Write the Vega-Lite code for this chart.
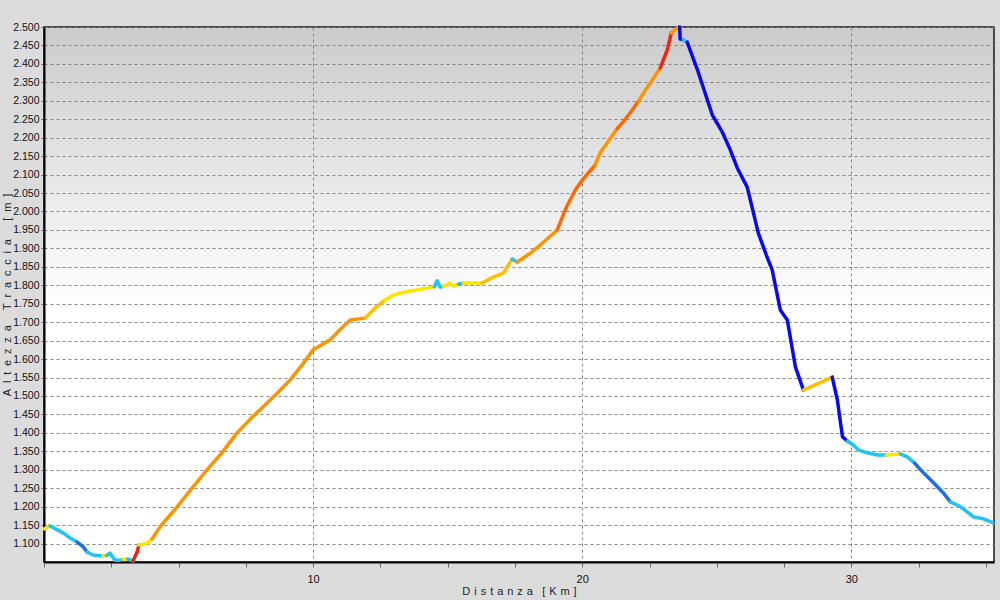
{
  "$schema": "https://vega.github.io/schema/vega-lite/v6.json",
  "width": 950,
  "height": 535,
  "autosize": "none",
  "padding": {"left": 44, "top": 27, "right": 6, "bottom": 38},
  "background": "#dcdcdc",
  "view": {
    "fill": {"gradient": "linear", "x1": 0, "y1": 0, "x2": 0, "y2": 1,
      "stops": [{"offset": 0, "color": "#cbcbcb"}, {"offset": 0.52, "color": "#ffffff"}, {"offset": 1, "color": "#ffffff"}]},
    "stroke": "#1a1a1a",
    "strokeWidth": 1.5
  },
  "config": {
    "font": "Liberation Sans",
    "axis": {
      "labelFont": "Liberation Sans",
      "titleFont": "Liberation Sans",
      "labelColor": "#111111",
      "titleColor": "#222222",
      "titleFontWeight": "normal",
      "domainColor": "#000000",
      "domainWidth": 2,
      "tickColor": "#666666",
      "gridColor": "#858585",
      "gridDash": [3, 3],
      "gridWidth": 1
    }
  },
  "data": {
    "values": [
      {"s": 1, "c": "F", "km": 0.02, "m": 1140}, {"s": 1, "c": "F", "km": 0.22, "m": 1148},
      {"s": 2, "c": "D1", "km": 0.22, "m": 1148}, {"s": 2, "c": "D1", "km": 0.71, "m": 1129}, {"s": 2, "c": "D1", "km": 0.97, "m": 1115}, {"s": 2, "c": "D1", "km": 1.23, "m": 1104},
      {"s": 3, "c": "D2", "km": 1.23, "m": 1104}, {"s": 3, "c": "D2", "km": 1.45, "m": 1092}, {"s": 3, "c": "D2", "km": 1.60, "m": 1077},
      {"s": 4, "c": "D1", "km": 1.60, "m": 1077}, {"s": 4, "c": "D1", "km": 1.82, "m": 1069}, {"s": 4, "c": "D1", "km": 2.19, "m": 1066},
      {"s": 5, "c": "F", "km": 2.19, "m": 1066}, {"s": 5, "c": "F", "km": 2.32, "m": 1068},
      {"s": 6, "c": "D1", "km": 2.32, "m": 1068}, {"s": 6, "c": "D1", "km": 2.45, "m": 1074}, {"s": 6, "c": "D1", "km": 2.64, "m": 1055}, {"s": 6, "c": "D1", "km": 2.83, "m": 1055}, {"s": 6, "c": "D1", "km": 2.95, "m": 1057},
      {"s": 7, "c": "F", "km": 2.95, "m": 1057}, {"s": 7, "c": "F", "km": 3.12, "m": 1058},
      {"s": 8, "c": "D1", "km": 3.12, "m": 1058}, {"s": 8, "c": "D1", "km": 3.31, "m": 1053},
      {"s": 9, "c": "U4", "km": 3.31, "m": 1053}, {"s": 9, "c": "U4", "km": 3.46, "m": 1077}, {"s": 9, "c": "U4", "km": 3.53, "m": 1096},
      {"s": 10, "c": "F", "km": 3.53, "m": 1096}, {"s": 10, "c": "F", "km": 3.83, "m": 1101}, {"s": 10, "c": "F", "km": 4.01, "m": 1112},
      {"s": 11, "c": "U2", "km": 4.01, "m": 1112}, {"s": 11, "c": "U2", "km": 4.31, "m": 1145}, {"s": 11, "c": "U2", "km": 4.94, "m": 1199}, {"s": 11, "c": "U2", "km": 5.5, "m": 1250}, {"s": 11, "c": "U2", "km": 6.06, "m": 1300}, {"s": 11, "c": "U2", "km": 6.6, "m": 1345}, {"s": 11, "c": "U2", "km": 7.17, "m": 1400}, {"s": 11, "c": "U2", "km": 7.7, "m": 1440}, {"s": 11, "c": "U2", "km": 8.29, "m": 1481}, {"s": 11, "c": "U2", "km": 8.7, "m": 1510}, {"s": 11, "c": "U2", "km": 9.14, "m": 1543}, {"s": 11, "c": "U2", "km": 9.6, "m": 1585}, {"s": 11, "c": "U2", "km": 10.0, "m": 1625}, {"s": 11, "c": "U2", "km": 10.63, "m": 1652}, {"s": 11, "c": "U2", "km": 11.0, "m": 1680}, {"s": 11, "c": "U2", "km": 11.38, "m": 1706}, {"s": 11, "c": "U2", "km": 11.93, "m": 1711},
      {"s": 12, "c": "U1", "km": 11.93, "m": 1711}, {"s": 12, "c": "U1", "km": 12.3, "m": 1738}, {"s": 12, "c": "U1", "km": 12.67, "m": 1760},
      {"s": 13, "c": "F", "km": 12.67, "m": 1760}, {"s": 13, "c": "F", "km": 13.0, "m": 1774}, {"s": 13, "c": "F", "km": 13.42, "m": 1782}, {"s": 13, "c": "F", "km": 14.3, "m": 1793}, {"s": 13, "c": "F", "km": 14.5, "m": 1796},
      {"s": 14, "c": "D1", "km": 14.5, "m": 1796}, {"s": 14, "c": "D1", "km": 14.61, "m": 1812}, {"s": 14, "c": "D1", "km": 14.72, "m": 1795}, {"s": 14, "c": "D1", "km": 14.85, "m": 1797},
      {"s": 15, "c": "F", "km": 14.85, "m": 1797}, {"s": 15, "c": "F", "km": 15.09, "m": 1806}, {"s": 15, "c": "F", "km": 15.2, "m": 1798}, {"s": 15, "c": "F", "km": 15.4, "m": 1803},
      {"s": 16, "c": "D1", "km": 15.4, "m": 1803}, {"s": 16, "c": "D1", "km": 15.58, "m": 1806},
      {"s": 17, "c": "F", "km": 15.58, "m": 1806}, {"s": 17, "c": "F", "km": 16.28, "m": 1806},
      {"s": 18, "c": "U1", "km": 16.28, "m": 1806}, {"s": 18, "c": "U1", "km": 16.69, "m": 1822}, {"s": 18, "c": "U1", "km": 17.06, "m": 1833}, {"s": 18, "c": "U1", "km": 17.40, "m": 1871},
      {"s": 19, "c": "D1", "km": 17.40, "m": 1871}, {"s": 19, "c": "D1", "km": 17.58, "m": 1863},
      {"s": 20, "c": "U2", "km": 17.58, "m": 1863}, {"s": 20, "c": "U2", "km": 18.07, "m": 1887}, {"s": 20, "c": "U2", "km": 18.44, "m": 1909}, {"s": 20, "c": "U2", "km": 19.07, "m": 1950},
      {"s": 21, "c": "U3", "km": 19.07, "m": 1950}, {"s": 21, "c": "U3", "km": 19.4, "m": 2010}, {"s": 21, "c": "U3", "km": 19.74, "m": 2058}, {"s": 21, "c": "U3", "km": 20.0, "m": 2085}, {"s": 21, "c": "U3", "km": 20.48, "m": 2126},
      {"s": 22, "c": "U2", "km": 20.48, "m": 2126}, {"s": 22, "c": "U2", "km": 20.67, "m": 2160}, {"s": 22, "c": "U2", "km": 20.93, "m": 2186}, {"s": 22, "c": "U2", "km": 21.3, "m": 2225},
      {"s": 23, "c": "U3", "km": 21.3, "m": 2225}, {"s": 23, "c": "U3", "km": 21.52, "m": 2243}, {"s": 23, "c": "U3", "km": 21.86, "m": 2275}, {"s": 23, "c": "U3", "km": 22.1, "m": 2300},
      {"s": 24, "c": "U2", "km": 22.1, "m": 2300}, {"s": 24, "c": "U2", "km": 22.42, "m": 2337}, {"s": 24, "c": "U2", "km": 22.90, "m": 2389},
      {"s": 25, "c": "U4", "km": 22.90, "m": 2389}, {"s": 25, "c": "U4", "km": 23.16, "m": 2438}, {"s": 25, "c": "U4", "km": 23.31, "m": 2484},
      {"s": 26, "c": "U2", "km": 23.31, "m": 2484}, {"s": 26, "c": "U2", "km": 23.57, "m": 2500}, {"s": 26, "c": "U2", "km": 23.62, "m": 2500},
      {"s": 27, "c": "D3", "km": 23.62, "m": 2500}, {"s": 27, "c": "D3", "km": 23.64, "m": 2467}, {"s": 27, "c": "D3", "km": 23.75, "m": 2465},
      {"s": 28, "c": "D1", "km": 23.75, "m": 2465}, {"s": 28, "c": "D1", "km": 23.9, "m": 2459},
      {"s": 29, "c": "D3", "km": 23.9, "m": 2459}, {"s": 29, "c": "D3", "km": 24.28, "m": 2384}, {"s": 29, "c": "D3", "km": 24.65, "m": 2302}, {"s": 29, "c": "D3", "km": 24.83, "m": 2262}, {"s": 29, "c": "D3", "km": 25.2, "m": 2216}, {"s": 29, "c": "D3", "km": 25.5, "m": 2167}, {"s": 29, "c": "D3", "km": 25.76, "m": 2118}, {"s": 29, "c": "D3", "km": 26.13, "m": 2066}, {"s": 29, "c": "D3", "km": 26.54, "m": 1942}, {"s": 29, "c": "D3", "km": 26.84, "m": 1882}, {"s": 29, "c": "D3", "km": 27.06, "m": 1841}, {"s": 29, "c": "D3", "km": 27.36, "m": 1733}, {"s": 29, "c": "D3", "km": 27.62, "m": 1706}, {"s": 29, "c": "D3", "km": 27.92, "m": 1579}, {"s": 29, "c": "D3", "km": 28.22, "m": 1516},
      {"s": 30, "c": "U1", "km": 28.22, "m": 1516}, {"s": 30, "c": "U1", "km": 29.29, "m": 1551},
      {"s": 31, "c": "D3", "km": 29.29, "m": 1551}, {"s": 31, "c": "D3", "km": 29.48, "m": 1489}, {"s": 31, "c": "D3", "km": 29.67, "m": 1389}, {"s": 31, "c": "D3", "km": 29.85, "m": 1378},
      {"s": 32, "c": "D1", "km": 29.85, "m": 1378}, {"s": 32, "c": "D1", "km": 30.07, "m": 1367}, {"s": 32, "c": "D1", "km": 30.26, "m": 1354}, {"s": 32, "c": "D1", "km": 30.59, "m": 1346}, {"s": 32, "c": "D1", "km": 30.97, "m": 1340}, {"s": 32, "c": "D1", "km": 31.3, "m": 1340},
      {"s": 33, "c": "F", "km": 31.3, "m": 1340}, {"s": 33, "c": "F", "km": 31.82, "m": 1343},
      {"s": 34, "c": "D1", "km": 31.82, "m": 1343}, {"s": 34, "c": "D1", "km": 32.08, "m": 1335}, {"s": 34, "c": "D1", "km": 32.35, "m": 1318},
      {"s": 35, "c": "D2", "km": 32.35, "m": 1318}, {"s": 35, "c": "D2", "km": 32.57, "m": 1300}, {"s": 35, "c": "D2", "km": 33.05, "m": 1265}, {"s": 35, "c": "D2", "km": 33.42, "m": 1237}, {"s": 35, "c": "D2", "km": 33.68, "m": 1213},
      {"s": 36, "c": "D1", "km": 33.68, "m": 1213}, {"s": 36, "c": "D1", "km": 34.05, "m": 1200}, {"s": 36, "c": "D1", "km": 34.54, "m": 1172}, {"s": 36, "c": "D1", "km": 34.91, "m": 1167}, {"s": 36, "c": "D1", "km": 35.25, "m": 1157}
    ]
  },
  "mark": {"type": "line", "strokeWidth": 3.5, "strokeCap": "round", "strokeJoin": "round"},
  "encoding": {
    "x": {
      "field": "km", "type": "quantitative",
      "scale": {"domain": [0, 35.3], "nice": false, "zero": false},
      "axis": {
        "values": [0, 2.5, 5, 7.5, 10, 12.5, 15, 17.5, 20, 22.5, 25, 27.5, 30, 32.5, 35],
        "labelExpr": "(datum.value % 10 === 0 && datum.value > 0) ? datum.label : ''",
        "gridOpacity": {"condition": {"test": "datum.value % 10 === 0 && datum.value > 0", "value": 1}, "value": 0},
        "tickSize": 5,
        "labelPadding": 6,
        "labelFontSize": 11,
        "labelFlush": false,
        "title": "D\u00a0\u200ai\u00a0\u200as\u00a0\u200at\u00a0\u200aa\u00a0\u200an\u00a0\u200az\u00a0\u200aa\u00a0\u00a0\u00a0[\u00a0\u200aK\u00a0\u200am\u00a0\u200a]",
        "titleFontSize": 11,
        "titlePadding": 1
      }
    },
    "y": {
      "field": "m", "type": "quantitative",
      "scale": {"domain": [1050, 2500], "nice": false, "zero": false},
      "axis": {
        "values": [1100, 1150, 1200, 1250, 1300, 1350, 1400, 1450, 1500, 1550, 1600, 1650, 1700, 1750, 1800, 1850, 1900, 1950, 2000, 2050, 2100, 2150, 2200, 2250, 2300, 2350, 2400, 2450, 2500],
        "labelExpr": "replace(format(datum.value, ','), ',', '.')",
        "tickSize": 3,
        "labelPadding": 2,
        "labelFontSize": 10.5,
        "labelFlush": false,
        "title": "A\u00a0\u200a\u200a\u200al\u00a0\u200a\u200a\u200at\u00a0\u200a\u200a\u200ae\u00a0\u200a\u200a\u200az\u00a0\u200a\u200a\u200az\u00a0\u200a\u200a\u200aa\u00a0\u00a0\u00a0\u00a0\u00a0T\u00a0\u200a\u200a\u200ar\u00a0\u200a\u200a\u200aa\u00a0\u200a\u200a\u200ac\u00a0\u200a\u200a\u200ac\u00a0\u200a\u200a\u200ai\u00a0\u200a\u200a\u200aa\u00a0\u00a0\u00a0\u00a0\u00a0\u00a0[\u00a0\u200a\u200a\u200am\u00a0\u200a\u200a\u200a]",
        "titleFontSize": 11,
        "titlePadding": 0
      }
    },
    "detail": {"field": "s", "type": "nominal"},
    "color": {
      "field": "c", "type": "nominal", "legend": null,
      "scale": {
        "domain": ["D3", "D2", "D1", "F", "U1", "U2", "U3", "U4"],
        "range": ["#0a0aee", "#1a6ee6", "#22c4f2", "#ffe400", "#ffbf00", "#ff9400", "#ff6a00", "#f0240a"]
      }
    }
  }
}
